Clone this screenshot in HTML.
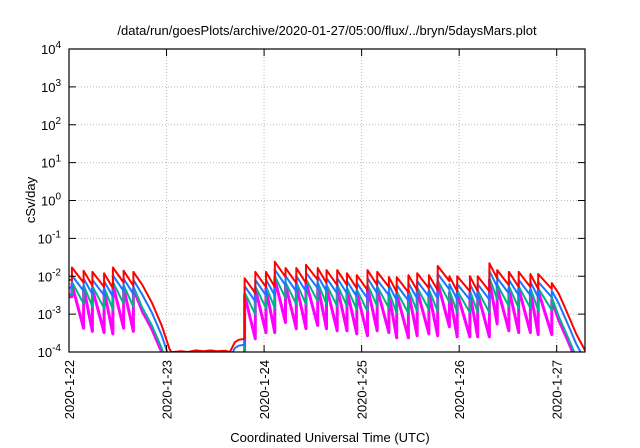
<!DOCTYPE html>
<html><head><meta charset="utf-8"><style>
body{margin:0;background:#fff}
svg{display:block;font-family:"Liberation Sans",sans-serif}
</style></head><body>
<svg id="chart" width="640" height="448" viewBox="0 0 640 448">
<defs><clipPath id="pc"><rect x="69" y="49" width="516" height="303"/></clipPath></defs>
<text x="327" y="35" font-size="13" text-anchor="middle">/data/run/goesPlots/archive/2020-01-27/05:00/flux/../bryn/5daysMars.plot</text>
<text transform="translate(35,200) rotate(-90)" font-size="13" text-anchor="middle">cSv/day</text>
<text x="330" y="442" font-size="13" text-anchor="middle">Coordinated Universal Time (UTC)</text>
<g id="grid"></g><g id="series" clip-path="url(#pc)"></g><g id="axes"></g>
</svg>
<script>
const xTickLabels=["2020-1-22","2020-1-23","2020-1-24","2020-1-25","2020-1-26","2020-1-27"];
const yTickExps=[-4,-3,-2,-1,0,1,2,3,4];
const seg1PeakDays=[0.03,0.15,0.24,0.36,0.45,0.56,0.66];
const seg1PeakVals=[1.7e-2,1.4e-2,1.3e-2,1.2e-2,1.7e-2,1.4e-2,1.3e-2];
const seg1StartVal=8e-3;
const seg1TailDays=[0.75,0.85,0.95,1.03,1.05];
const seg1TailVals=[6e-3,2e-3,5e-4,1.2e-4,1.0e-4];
const gapDays=[1.07,1.15,1.22,1.3,1.38,1.45,1.52,1.6,1.65,1.7,1.74,1.79];
const gapVals=[1.0e-4,1.05e-4,1.0e-4,1.1e-4,1.05e-4,1.1e-4,1.05e-4,1.08e-4,1.0e-4,1.8e-4,2.1e-4,2.2e-4];
const seg2PeakDays=[1.80,1.91,2.02,2.11,2.22,2.33,2.43,2.55,2.64,2.75,2.85,2.95,3.06,3.16,3.28,3.36,3.48,3.57,3.69,3.78,3.90,3.98,4.11,4.19,4.31,4.39,4.51,4.61,4.73,4.81,4.95];
const seg2PeakVals=[8.9e-3,1.3e-2,1.3e-2,2.4e-2,1.65e-2,1.65e-2,2.0e-2,1.65e-2,1.45e-2,1.45e-2,1.2e-2,1.07e-2,1.45e-2,1.3e-2,9.5e-3,9.5e-3,1.07e-2,1.2e-2,1.07e-2,1.86e-2,1.0e-2,1.0e-2,1.0e-2,1.0e-2,2.2e-2,1.45e-2,1.3e-2,1.3e-2,1.15e-2,1.15e-2,6.6e-3];
const seg2TailDays=[5.02,5.1,5.2,5.29];
const seg2TailVals=[3.5e-3,1.2e-3,3e-4,1.1e-4];
const seriesNames=["red","blue","green","magenta"];
const seriesColors=["#ff0000","#1a75ff","#00b386","#ff00ff"];
const seriesWidths=[2,2,2,3];
const peakFactors=[1,0.62,0.42,0.36];
const troughFactors=[0.4,0.24,0.11,0.025];
const tailFactors=[1,0.55,0.25,0.2];
const gapFactors=[1,0.7,0.3,0.2];

const X0=69,X1=585,Y0=352,Y1=49,DMAX=5.29;
const xs=d=>X0+(X1-X0)*d/DMAX;
const ys=v=>Y0-(Math.log10(v)+4)*(Y0-Y1)/8;
const NS="http://www.w3.org/2000/svg";
function mk(t,a,p){const e=document.createElementNS(NS,t);for(const k in a)e.setAttribute(k,a[k]);p.appendChild(e);return e;}
const grid=document.getElementById('grid'),axes=document.getElementById('axes'),ser=document.getElementById('series');
yTickExps.forEach(n=>{const y=ys(Math.pow(10,n));
 if(n>-4&&n<4){const g=mk('line',{x1:X0,x2:X1,y1:y,y2:y,stroke:'#bbb','stroke-dasharray':'1,2','stroke-width':1},grid);
 
 }
 mk('line',{x1:X0,x2:X0+7,y1:y,y2:y,stroke:'#000'},axes);
 mk('line',{x1:X1,x2:X1-7,y1:y,y2:y,stroke:'#000'},axes);
 const t=mk('text',{x:X0-8,y:y+5,'font-size':13,'text-anchor':'end'},axes);
 
 
 t.innerHTML='10<tspan dy="-6" font-size="10">'+n+'</tspan>';
});
xTickLabels.forEach((l,i)=>{const x=xs(i);
 if(i>0){const g=mk('line',{x1:x,x2:x,y1:Y0,y2:Y1,stroke:'#bbb','stroke-dasharray':'1,2'},grid);
 
 }
 mk('line',{x1:x,x2:x,y1:Y0,y2:Y0-7,stroke:'#000'},axes);
 mk('line',{x1:x,x2:x,y1:Y1,y2:Y1+7,stroke:'#000'},axes);
 const t=mk('text',{transform:`translate(${x+5},${Y0+8}) rotate(-90)`,'font-size':13,'text-anchor':'end'},axes);
 
 
 t.textContent=l;
});
const fr=mk('rect',{x:X0,y:Y1,width:X1-X0,height:Y0-Y1,fill:'none',stroke:'#000','stroke-width':1.2},axes);


function segPts(days,vals,startVal,pf,tf){const p=[];
 days.forEach((d,i)=>{const prev=i==0?startVal:vals[i-1]*tf;p.push([d,prev]);p.push([d,vals[i]*pf]);});
 return p;}
for(let s=3;s>=0;s--){
 const pf=peakFactors[s],tf=troughFactors[s],kf=tailFactors[s];
 let p=[[0,seg1StartVal*pf]].concat(segPts(seg1PeakDays,seg1PeakVals,seg1StartVal*pf,pf,tf));
 seg1TailDays.forEach((d,i)=>p.push([d,seg1TailVals[i]*kf]));
 gapDays.forEach((d,i)=>p.push([d,gapVals[i]*gapFactors[s]]));
 p=p.concat(segPts(seg2PeakDays,seg2PeakVals,gapVals[gapVals.length-1]*gapFactors[s],pf,tf));
 seg2TailDays.forEach((d,i)=>p.push([d,seg2TailVals[i]*kf]));
 const pts=p.map(q=>xs(q[0]).toFixed(1)+','+ys(Math.max(q[1],1e-6)).toFixed(1)).join(' ');
 const el=mk('polyline',{points:pts,fill:'none',stroke:seriesColors[s],'stroke-width':seriesWidths[s],'stroke-linejoin':'round'},ser);
 
 
}
</script>
</body></html>
